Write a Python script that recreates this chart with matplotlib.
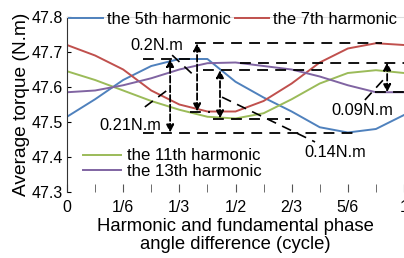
import matplotlib
matplotlib.use("Agg")
import matplotlib.pyplot as plt
import numpy as np

plt.rcParams["font.family"] = ["Liberation Sans", "DejaVu Sans"]

# Phase difference sampled every 1/12 cycle
phase = np.arange(13) / 12
torque_5th = [47.515, 47.565, 47.62, 47.66, 47.68, 47.68, 47.615, 47.57, 47.53, 47.485, 47.47, 47.48, 47.52]
torque_7th = [47.72, 47.69, 47.65, 47.59, 47.55, 47.53, 47.53, 47.56, 47.61, 47.67, 47.71, 47.725, 47.72]
torque_11th = [47.645, 47.62, 47.59, 47.56, 47.535, 47.515, 47.51, 47.525, 47.565, 47.61, 47.64, 47.648, 47.64]
torque_13th = [47.585, 47.59, 47.605, 47.625, 47.65, 47.668, 47.67, 47.66, 47.65, 47.63, 47.605, 47.585, 47.585]

tick_pos = [0, 1/6, 1/3, 1/2, 2/3, 5/6, 1]
tick_labels = ["0", "1/6", "1/3", "1/2", "2/3", "5/6", "1"]

colors = ["#4F81BD", "#C0504D", "#9BBB59", "#8064A2"]
names = ["the 5th harmonic", "the 7th harmonic", "the 11th harmonic", "the 13th harmonic"]
series = [torque_5th, torque_7th, torque_11th, torque_13th]

# ripple annotations: arrow x, max-line span, min-line span, label text/pos, leader line
arrow_x = [0.306, 0.386, 0.454, 0.95]
max_span = [(0.225, 0.39), (0.38, 0.935), (0.404, 0.757), (0.513, 1.0)]
min_span = [(0.225, 0.864), (0.365, 0.424), (0.433, 0.662), (0.914, 1.0)]
ripple_text = ["0.21N.m", "0.2N.m", "0.14N.m", "0.09N.m"]
text_pos = [(0.187, 47.491), (0.267, 47.72), (0.795, 47.414), (0.875, 47.534)]
leaders = [((0.231, 47.543), (0.306, 47.597)),
           ((0.312, 47.691), (0.38, 47.63)),
           ((0.46, 47.571), (0.736, 47.443)),
           ((0.884, 47.563), (0.938, 47.62))]

fig = plt.figure(figsize=(4.04, 2.58), dpi=100)
ax = fig.add_axes([67/404, 66/258, 337/404, 175/258])

lines = []
for vals, c, n in zip(series, colors, names):
    ln, = ax.plot(phase, vals, color=c, lw=1.4, label=n)
    lines.append(ln)

for i, vals in enumerate(series):
    top, bot = max(vals), min(vals)
    ax.plot(max_span[i], [top, top], "k--", lw=1.3, dashes=(6, 4))
    ax.plot(min_span[i], [bot, bot], "k--", lw=1.3, dashes=(6, 4))
    ax.annotate("", xy=(arrow_x[i], top), xytext=(arrow_x[i], bot),
                arrowprops=dict(arrowstyle="<|-|>", color="k", lw=1.3,
                                ls="--", mutation_scale=11, shrinkA=0, shrinkB=0))
    (x0, y0), (x1, y1) = leaders[i]
    ax.plot([x0, x1], [y0, y1], "k--", lw=1.2, dashes=(6, 4))
    ax.text(text_pos[i][0], text_pos[i][1], ripple_text[i], fontsize=11.8,
            ha="center", va="center")

ax.set_xlim(0, 1)
ax.set_ylim(47.3, 47.8)
ax.set_xticks(tick_pos)
ax.set_xticklabels(tick_labels)
ax.set_xticks(np.arange(13) / 12, minor=True)
ax.set_yticks(np.arange(47.3, 47.81, 0.1))
ax.set_yticklabels(["47.3", "47.4", "47.5", "47.6", "47.7", "47.8"])
ax.tick_params(axis="x", which="both", direction="in", length=6, color="#555555",
               labelsize=11.5, pad=6)
ax.tick_params(axis="y", direction="in", length=3, labelsize=11.5, pad=3)

ax.spines["left"].set_color("#333333")
ax.spines["bottom"].set_visible(False)
ax.spines["right"].set_visible(False)
ax.spines["top"].set_color("#dddddd")

ax.set_xlabel("Harmonic and fundamental phase\nangle difference (cycle)",
              fontsize=13.3, labelpad=2, linespacing=1.05)
ax.set_ylabel("Average torque (N.m)", fontsize=13.8, labelpad=1)

leg1 = fig.legend(handles=lines[:2], loc="center left", ncol=2,
                  bbox_to_anchor=(67/404, (258-19)/258), frameon=False,
                  fontsize=11.9, handlelength=2.1, handletextpad=0.2,
                  columnspacing=0.25, borderpad=0.1, borderaxespad=0)
leg2 = fig.legend(handles=lines[2:], loc="center left",
                  bbox_to_anchor=(81/404, (258-163.5)/258), frameon=False,
                  fontsize=12.1, handlelength=2.3, handletextpad=0.35,
                  labelspacing=0.0, borderpad=0.1, borderaxespad=0)

fig.savefig("out.png", dpi=100)
